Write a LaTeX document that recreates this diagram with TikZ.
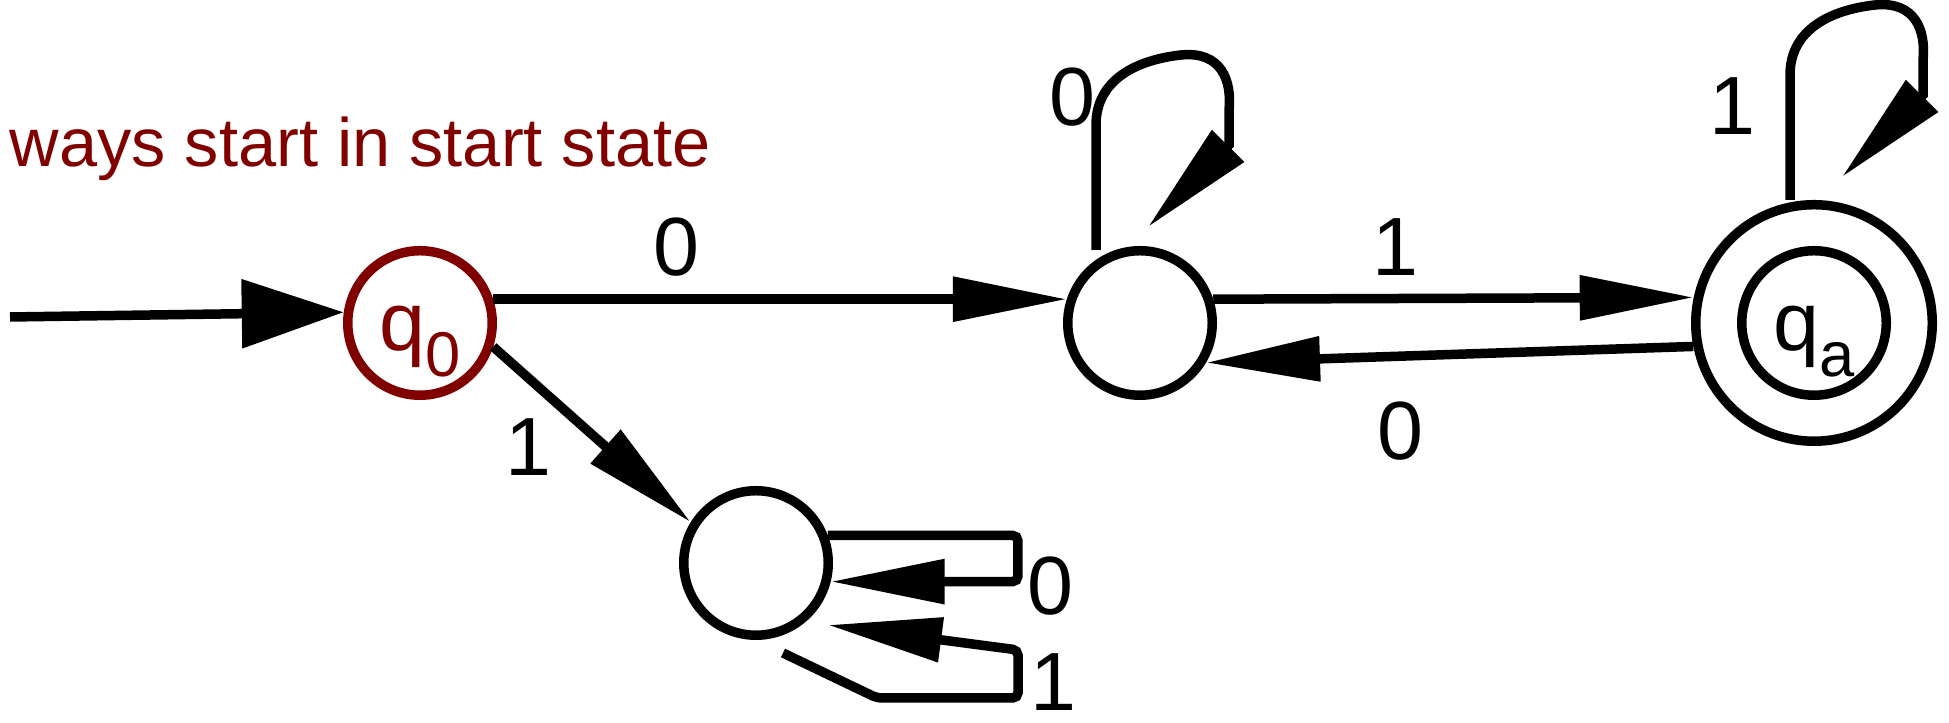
\documentclass[tikz,border=0pt]{standalone}
\usepackage{fontspec}
\setmainfont{Liberation Sans}
\usetikzlibrary{arrows.meta}

\definecolor{startred}{HTML}{800000}
% state name with a lowered, smaller index
\newcommand{\stname}[2]{#1\raisebox{-0.26cm}{\fontsize{18pt}{18pt}\selectfont #2}}

\begin{document}
\begin{tikzpicture}[>={Triangle[length=1.14cm,width=0.43cm]},line width=0.095cm,
    font=\fontsize{23.5pt}{26pt}\selectfont,
    state/.style={circle,draw,minimum size=1.445cm,inner sep=0pt,
      text height=0.62cm,text depth=0.06cm},
    lbl/.style={inner sep=0pt},
    entryarrow/.style={-{Triangle[length=1.02cm,width=0.67cm]}}]
  \useasboundingbox (0,0) rectangle (19.49,7.23);

  \node[anchor=base west,inner sep=0pt,text=startred,
    font=\fontsize{19.5pt}{21pt}\selectfont] (note) at (0.05,5.56)
    {ways start in start state};

  % states
  \node[state,draw=startred,text=startred] (q0) at (4.20,4.00) {\stname{q}{0}};
  \node[state] (q1) at (11.40,4.00) {};
  \node[state] (qa) at (18.14,4.00) {\stname{q}{a}};
  \node[state,minimum size=2.365cm] (qaring) at (qa) {};
  \node[state] (qd) at (7.56,1.60) {};

  % transitions
  \coordinate (entry) at (0.10,4.06);
  \draw[entryarrow] (entry) -- (q0.172.5);
  \draw[->] (q0.18) -- node[lbl,pos=0.32,above=0.18cm] {0} (q1.162);
  \draw[->] (q0.-18) -- node[lbl,pos=0.35,below left=0.06cm] {1} (qd.148);
  \draw[->] (q1.18) -- node[lbl,pos=0.38,above=0.18cm] {1} (qaring.168.75);
  \draw[->] (qaring.191.25) -- node[lbl,pos=0.60,below=0.41cm] {0} (q1.-31);

  % self loops
  \draw[->] ([shift={(-0.44,0.73)}]q1.center) -- ++(0,1.25)
    .. controls +(0,0.45) and +(-0.45,-0.05) .. ++(0.85,0.70)
    .. controls +(0.40,0.04) and +(0.03,0.30) .. ++(0.48,-0.55)
    -- ++(0,-0.35) -- ++(-0.81,-0.82);
  \node[lbl] at (10.72,6.26) {0};
  \draw[->] ([shift={(-0.24,1.23)}]qa.center) -- ++(0,1.25)
    .. controls +(0,0.45) and +(-0.45,-0.05) .. ++(0.85,0.70)
    .. controls +(0.40,0.04) and +(0.03,0.30) .. ++(0.48,-0.55)
    -- ++(0,-0.35) -- ++(-0.81,-0.82);
  \node[lbl] at (17.32,6.17) {1};

  \draw[->,rounded corners=1.5pt] (qd.21) -- ++(1.90,0) |- (qd.-14);
  \node[lbl] at (10.50,1.37) {0};
  \draw[->,rounded corners=1.5pt] ([shift={(0.27,-0.90)}]qd.center)
    -- (8.77,0.25) -- (10.18,0.25) -- (10.18,0.73)
    -- ([shift={(0.72,-0.62)}]qd.center);
  \node[lbl] at (10.53,0.41) {1};
\end{tikzpicture}
\end{document}
